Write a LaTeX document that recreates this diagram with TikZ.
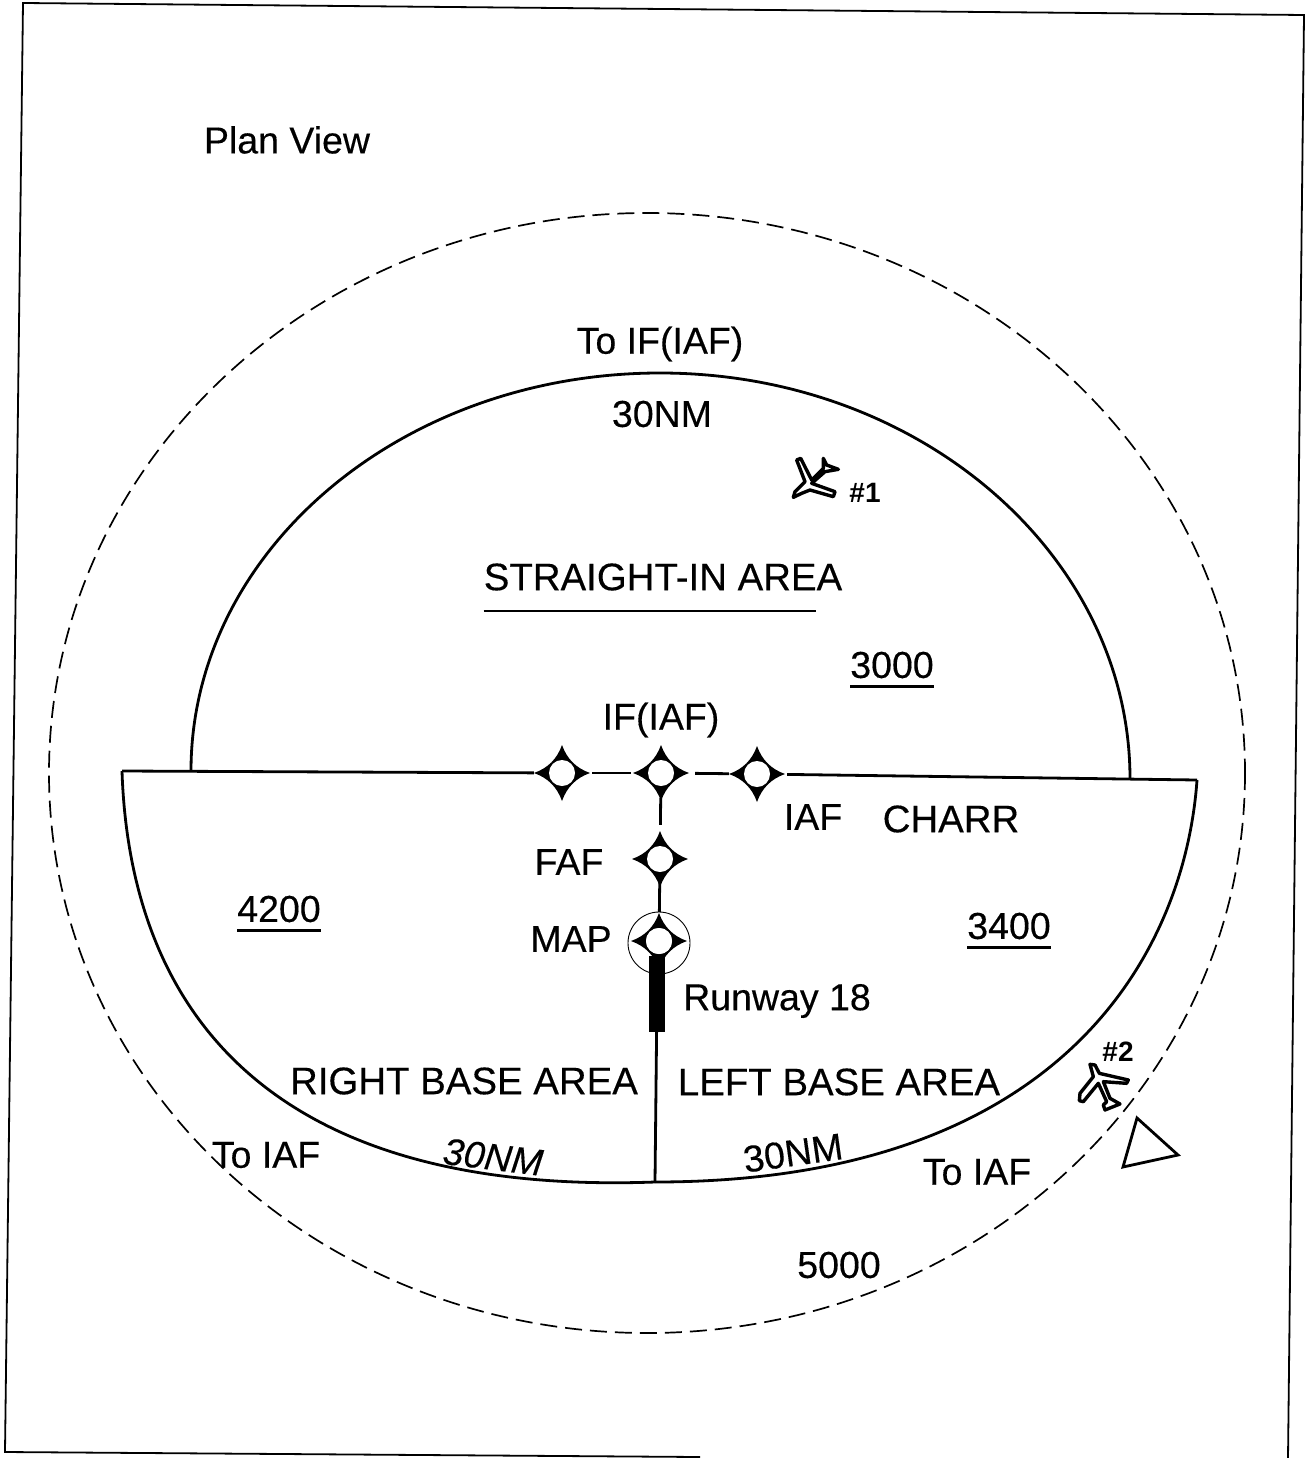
\documentclass[tikz,border=0pt]{standalone}
\usepackage{fontspec}
\setmainfont{Liberation Sans}[BoldFont={Liberation Sans}, BoldFeatures={FakeBold=0.3}, BoldItalicFont={Liberation Sans Italic}, BoldItalicFeatures={FakeBold=0.3}]
\newfontfamily\tagfont{Liberation Sans Bold}
\usepackage{tikz}
\usetikzlibrary{positioning}

\tikzset{
    lbl/.style={inner sep=0pt, font=\fontsize{37.5}{40}\selectfont\bfseries},
    caps/.style={inner sep=0pt, font=\fontsize{38.4}{40}\selectfont\bfseries},
    alt/.style={lbl, inner xsep=0pt, inner ysep=8pt},
    tag/.style={inner sep=0pt, font=\fontsize{28}{30}\selectfont\tagfont},
    area/.style={line width=2.8pt},
    thinrule/.style={line width=2.4pt},
    fixhole/.style={circle, fill=white, inner sep=0pt, minimum size=26pt},
    fixstar/.pic={\fill (0,-28) .. controls (5,-14) and (14,-5) .. (28,0)
        .. controls (14,5) and (5,14) .. (0,28)
        .. controls (-5,14) and (-14,5) .. (-28,0)
        .. controls (-14,-5) and (-5,-14) .. (0,-28) -- cycle;}
}

\begin{document}
\begin{tikzpicture}[x=1pt, y=-1pt]
    \useasboundingbox (0,0) rectangle (1309,1458);

    % Scanned frame, slightly skewed
    \draw[line width=1.8pt] (700,1457) -- (5,1452) -- (23,3) -- (1304,15) -- (1288,1458);

    % Outer dashed boundary
    \draw[line width=1.7pt, dash pattern=on 17pt off 8pt] (647,773) ellipse [x radius=598, y radius=560];

    % Sector corners
    \coordinate (cornerL) at (122,771);
    \coordinate (cornerR) at (1197,780);
    \coordinate (bottomC) at (655,1182);
    \coordinate (upperL) at (191,771);

    % Sectors
    \draw[area] (upperL) arc [start angle=180, end angle=270, x radius=469, y radius=398]
        arc [start angle=270, end angle=360, x radius=470, y radius=406];
    \draw[area] (cornerL) .. controls (128,955) and (215,1198) .. (bottomC);
    \draw[area] (cornerR) .. controls (1185,950) and (1065,1182) .. (bottomC);

    % Fixes
    \foreach \fixname/\fx/\fy in {fixW/562/773, fixIF/661/773, fixE/757/774, fixFAF/660/859, fixMAP/659/941} {
        \pic at (\fx,\fy) {fixstar};
        \node[fixhole] (\fixname) at (\fx,\fy) {};
    }
    \node[circle, draw, line width=.9pt, inner sep=0pt, minimum size=62pt] (mapRing) at (659,943) {};

    % Runway, with the hole of the MAP fix left on top
    \node[fill=black, inner sep=0pt, minimum width=16pt, minimum height=76pt] (runway) at (657,994) {};
    \fill[white] (fixMAP) circle (13);

    % Track between the fixes
    \path[area]
    (cornerL) edge [shorten >=15pt] (fixW)
    (fixW) edge [shorten <=17pt, shorten >=17pt] (fixIF)
    (fixIF) edge [shorten <=21pt, shorten >=15pt] (fixE)
    (fixE) edge [shorten <=17pt] (cornerR)
    (fixIF) edge [shorten <=12pt, shorten >=21pt] (fixFAF)
    (fixFAF) edge [shorten <=8pt, shorten >=16pt] (fixMAP)
    (runway) edge (bottomC);

    % Labels
    \node[lbl] (planView) at (287,140) {Plan View};
    \node[lbl] (toIF) at (660,344) {To IF(IAF)};
    \node[lbl] (topNM) at (662,414) {30NM};
    \node[caps, inner ysep=20pt] (straightIn) at (663,577) {STRAIGHT-IN AREA};
    \node[alt] (alt3000) at (892,665) {3000};
    \node[lbl] (ifIAF) at (661,720) {IF(IAF)};
    \node[lbl] (iafE) at (813,817) {IAF};
    \node[caps] (charr) at (951,819) {CHARR};
    \node[lbl] (fafLbl) at (569,862) {FAF};
    \node[lbl] (mapLbl) at (571,939) {MAP};
    \node[lbl] (rwyLbl) at (777,1001) {Runway 18};
    \node[alt] (alt4200) at (279,909) {4200};
    \node[alt] (alt3400) at (1009,926) {3400};
    \node[caps] (rightBase) at (464,1081) {RIGHT BASE AREA};
    \node[caps] (leftBase) at (839,1082) {LEFT BASE AREA};
    \node[lbl] (toIAFL) at (266,1155) {To IAF};
    \node[lbl, rotate=-7, font=\fontsize{37.5}{40}\selectfont\itshape\bfseries] (leftNM) at (493,1157) {30NM};
    \node[lbl, rotate=8] (rightNM) at (793,1153) {30NM};
    \node[lbl] (toIAFR) at (977,1172) {To IAF};
    \node[lbl] (alt5000) at (839,1265) {5000};
    \node[tag] (tagOne) at (865,493) {\#1};
    \node[tag] (tagTwo) at (1118,1052) {\#2};

    % Underlines
    \draw[thinrule] (straightIn.south west) -- ([xshift=-26pt]straightIn.south east);
    \draw[thinrule] (alt3000.south west) -- (alt3000.south east);
    \draw[thinrule] (alt4200.south west) -- (alt4200.south east);
    \draw[thinrule] (alt3400.south west) -- (alt3400.south east);

    % Aircraft #1 and #2
    \begin{scope}[shift={(770,440)}, x=.3333pt, y=-.3333pt]
        \draw[line width=3.4pt, line join=round]
        (160,55) -- (170,75) -- (205,88) -- (165,95) -- (125,130) -- (195,155) -- (190,170)
        -- (120,150) -- (95,160) -- (70,172) -- (75,155) -- (105,125) -- (80,60) -- (92,55)
        -- (125,120) -- (160,85) -- cycle;
    \end{scope}
    \begin{scope}[shift={(1060,1030)}, x=.3333pt, y=-.3333pt]
        \draw[line width=3.4pt, line join=round]
        (90,103) -- (105,105) -- (118,130) -- (205,150) -- (200,160) -- (130,155) -- (150,205)
        -- (180,222) -- (135,240) -- (130,225) -- (140,215) -- (115,160) -- (70,215) -- (58,212)
        -- (60,190) -- (100,140) -- cycle;
    \end{scope}

    % Triangle
    \draw[line width=2.8pt, line join=miter] (1137,1118) -- (1178,1155) -- (1123,1167) -- cycle;
\end{tikzpicture}
\end{document}
